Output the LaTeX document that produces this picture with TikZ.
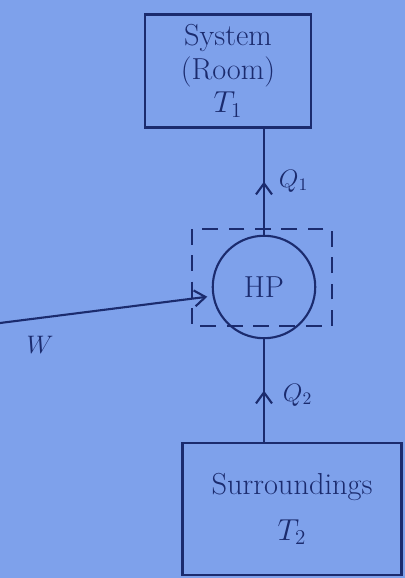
\documentclass[tikz,border=0pt]{standalone}
\usepackage{amsmath}
\usetikzlibrary{arrows.meta, decorations.markings}
\definecolor{paper}{HTML}{7EA1EB}
\definecolor{ink}{HTML}{1B2B6E}

\begin{document}
\begin{tikzpicture}[x=0.02cm, y=-0.02cm, color=ink, line width=1.2pt,
  >={Straight Barb[length=2.2mm, width=3.2mm]},
  midarrow/.style={postaction={decorate},
    decoration={markings, mark=at position 0.5 with {\arrow{>}}}}]

% Background
\fill[paper] (0,0) rectangle (405,578);
\useasboundingbox (0,0) rectangle (405,578);

% System (room) at T1
\node[draw, minimum width=3.32cm, minimum height=2.26cm, align=center, font=\LARGE]
  (sys) at (228,71) {System\\[-3pt](Room)\\[-3pt]$T_1$};

% Heat pump
\node[draw, circle, minimum size=2.05cm, inner sep=0pt, font=\LARGE] (hp) at (264,287) {HP};

% Surroundings at T2
\node[draw, minimum width=4.38cm, minimum height=2.64cm, align=center, font=\LARGE]
  (surr) at (292,509) {Surroundings\\[4pt]$T_2$};

% Control boundary round the heat pump
\draw[dashed, dash pattern=on 9pt off 6pt, line width=0.9pt] (192,229) rectangle (332,326);

% Heat flows
\draw[midarrow] (hp.north) -- (hp.north |- sys.south);
\node[font=\Large, anchor=west] (q1) at (272,181) {$Q_1$};
\draw[midarrow] (hp.south |- surr.north) -- (hp.south);
\node[font=\Large, anchor=west] (q2) at (276,395) {$Q_2$};

% Work input
\coordinate (wstart) at (0,323);
\draw[->, shorten >=3pt] (wstart) -- (hp.190);
\node[font=\Large] (w) at (40,345) {$W$};

\end{tikzpicture}
\end{document}
